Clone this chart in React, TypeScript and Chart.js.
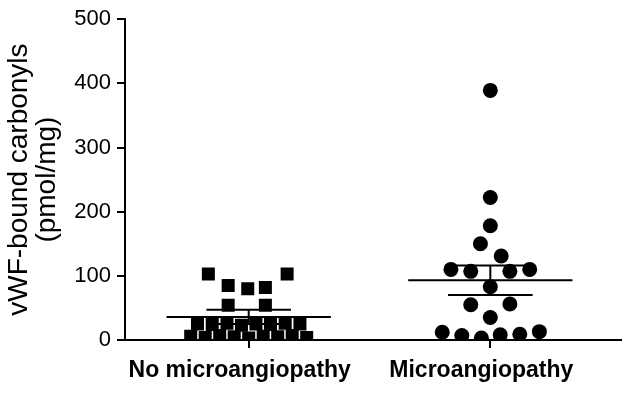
import { useEffect, useRef } from 'react';
import { Chart, registerables } from 'chart.js';

Chart.register(...registerables);

const categories = ['No microangiopathy', 'Microangiopathy'];
const yTickValues = [0, 100, 200, 300, 400, 500];

// Group 1: squares
const noMicroValues = [103, 103, 85, 80, 82, 54, 54, 25, 24, 26, 23, 25, 24, 26, 25, 6, 4, 7, 5, 3, 6, 5, 7, 4];
const noMicroJitter = [-0.167, 0.159, -0.085, -0.004, 0.069, -0.085, 0.069, -0.212, -0.151, -0.09, -0.03, 0.03, 0.09, 0.151, 0.212, -0.24, -0.18, -0.12, -0.06, 0, 0.06, 0.12, 0.18, 0.24];

// Group 2: circles
const microValues = [389, 222, 178, 150, 131, 110, 107, 107, 110, 83, 55, 56, 35, 12, 7, 3, 8, 9, 13];
const microJitter = [0, 0, 0, -0.041, 0.045, -0.163, -0.081, 0.081, 0.163, 0, -0.081, 0.081, 0, -0.199, -0.118, -0.037, 0.041, 0.122, 0.203];

const groupMeans = [36, 93];
const groupSems = [11, 23];

const FONT = "'Liberation Sans', Arial, sans-serif";

export default function App() {
  const ref = useRef<HTMLCanvasElement | null>(null);

  useEffect(() => {
    if (!ref.current) return;
    const lineStyle = {
      showLine: true,
      borderColor: '#000',
      borderWidth: 2,
      pointRadius: 0,
      pointHoverRadius: 0,
    };
    const meanW = 0.34;
    const capW = 0.175;
    const lineSets: any[] = [];
    groupMeans.forEach((m, g) => {
      const c = g + 1;
      const s = groupSems[g];
      lineSets.push({ ...lineStyle, data: [{ x: c - meanW, y: m }, { x: c + meanW, y: m }] });
      lineSets.push({ ...lineStyle, data: [{ x: c - capW, y: m + s }, { x: c + capW, y: m + s }] });
      lineSets.push({ ...lineStyle, data: [{ x: c - capW, y: m - s }, { x: c + capW, y: m - s }] });
      lineSets.push({ ...lineStyle, data: [{ x: c, y: m - s }, { x: c, y: m + s }] });
    });

    const chart = new Chart(ref.current, {
      type: 'scatter',
      data: {
        datasets: [
          {
            data: noMicroValues.map((v, i) => ({ x: 1 + noMicroJitter[i], y: v })),
            pointStyle: 'rect',
            pointRadius: 9.2,
            pointBackgroundColor: '#000',
            pointBorderColor: '#000',
            pointBorderWidth: 0,
          },
          {
            data: microValues.map((v, i) => ({ x: 2 + microJitter[i], y: v })),
            pointStyle: 'circle',
            pointRadius: 7.5,
            pointBackgroundColor: '#000',
            pointBorderColor: '#000',
            pointBorderWidth: 0,
          },
          ...lineSets,
        ],
      },
      options: {
        animation: false,
        responsive: false,
        maintainAspectRatio: false,
        events: [],
        layout: { padding: { top: 15, left: 0, right: 0, bottom: 0 } },
        plugins: { legend: { display: false }, tooltip: { enabled: false } },
        scales: {
          x: {
            type: 'linear',
            min: 0.488,
            max: 2.54,
            afterBuildTicks: (scale: any) => {
              scale.ticks = categories.map((_, i) => ({ value: i + 1 }));
            },
            afterFit: (scale: any) => {
              scale.height = 61;
            },
            ticks: {
              color: '#000',
              font: { family: FONT, size: 23, weight: 'bold' },
              padding: 9,
              labelOffset: -9,
              maxRotation: 0,
              autoSkip: false,
              callback: (v: any) => categories[Math.round(Number(v)) - 1] ?? '',
            },
            grid: {
              display: true,
              drawOnChartArea: false,
              drawTicks: true,
              tickLength: 8,
              color: '#000',
              lineWidth: 2,
            },
            border: { display: true, color: '#000', width: 2 },
          },
          y: {
            type: 'linear',
            min: 0,
            max: 500,
            afterBuildTicks: (scale: any) => {
              scale.ticks = yTickValues.map((v) => ({ value: v }));
            },
            afterFit: (scale: any) => {
              scale.width = 125;
            },
            ticks: {
              color: '#000',
              font: { family: FONT, size: 22 },
              padding: 6,
            },
            grid: {
              display: true,
              drawOnChartArea: false,
              drawTicks: true,
              tickLength: 8,
              color: '#000',
              lineWidth: 2,
            },
            border: { display: true, color: '#000', width: 2 },
            title: {
              display: true,
              text: ['vWF-bound carbonyls', '(pmol/mg)'],
              color: '#000',
              font: { family: FONT, size: 28, lineHeight: 1.0 },
              padding: { top: 5, bottom: 0 },
            },
          },
        },
      },
    } as any);
    return () => chart.destroy();
  }, []);

  return (
    <div style={{ position: 'fixed', left: 0, top: 0, width: 630, height: 401, background: '#fff' }}>
      <canvas ref={ref} width={630} height={401} style={{ width: 630, height: 401, display: 'block' }} />
    </div>
  );
}
